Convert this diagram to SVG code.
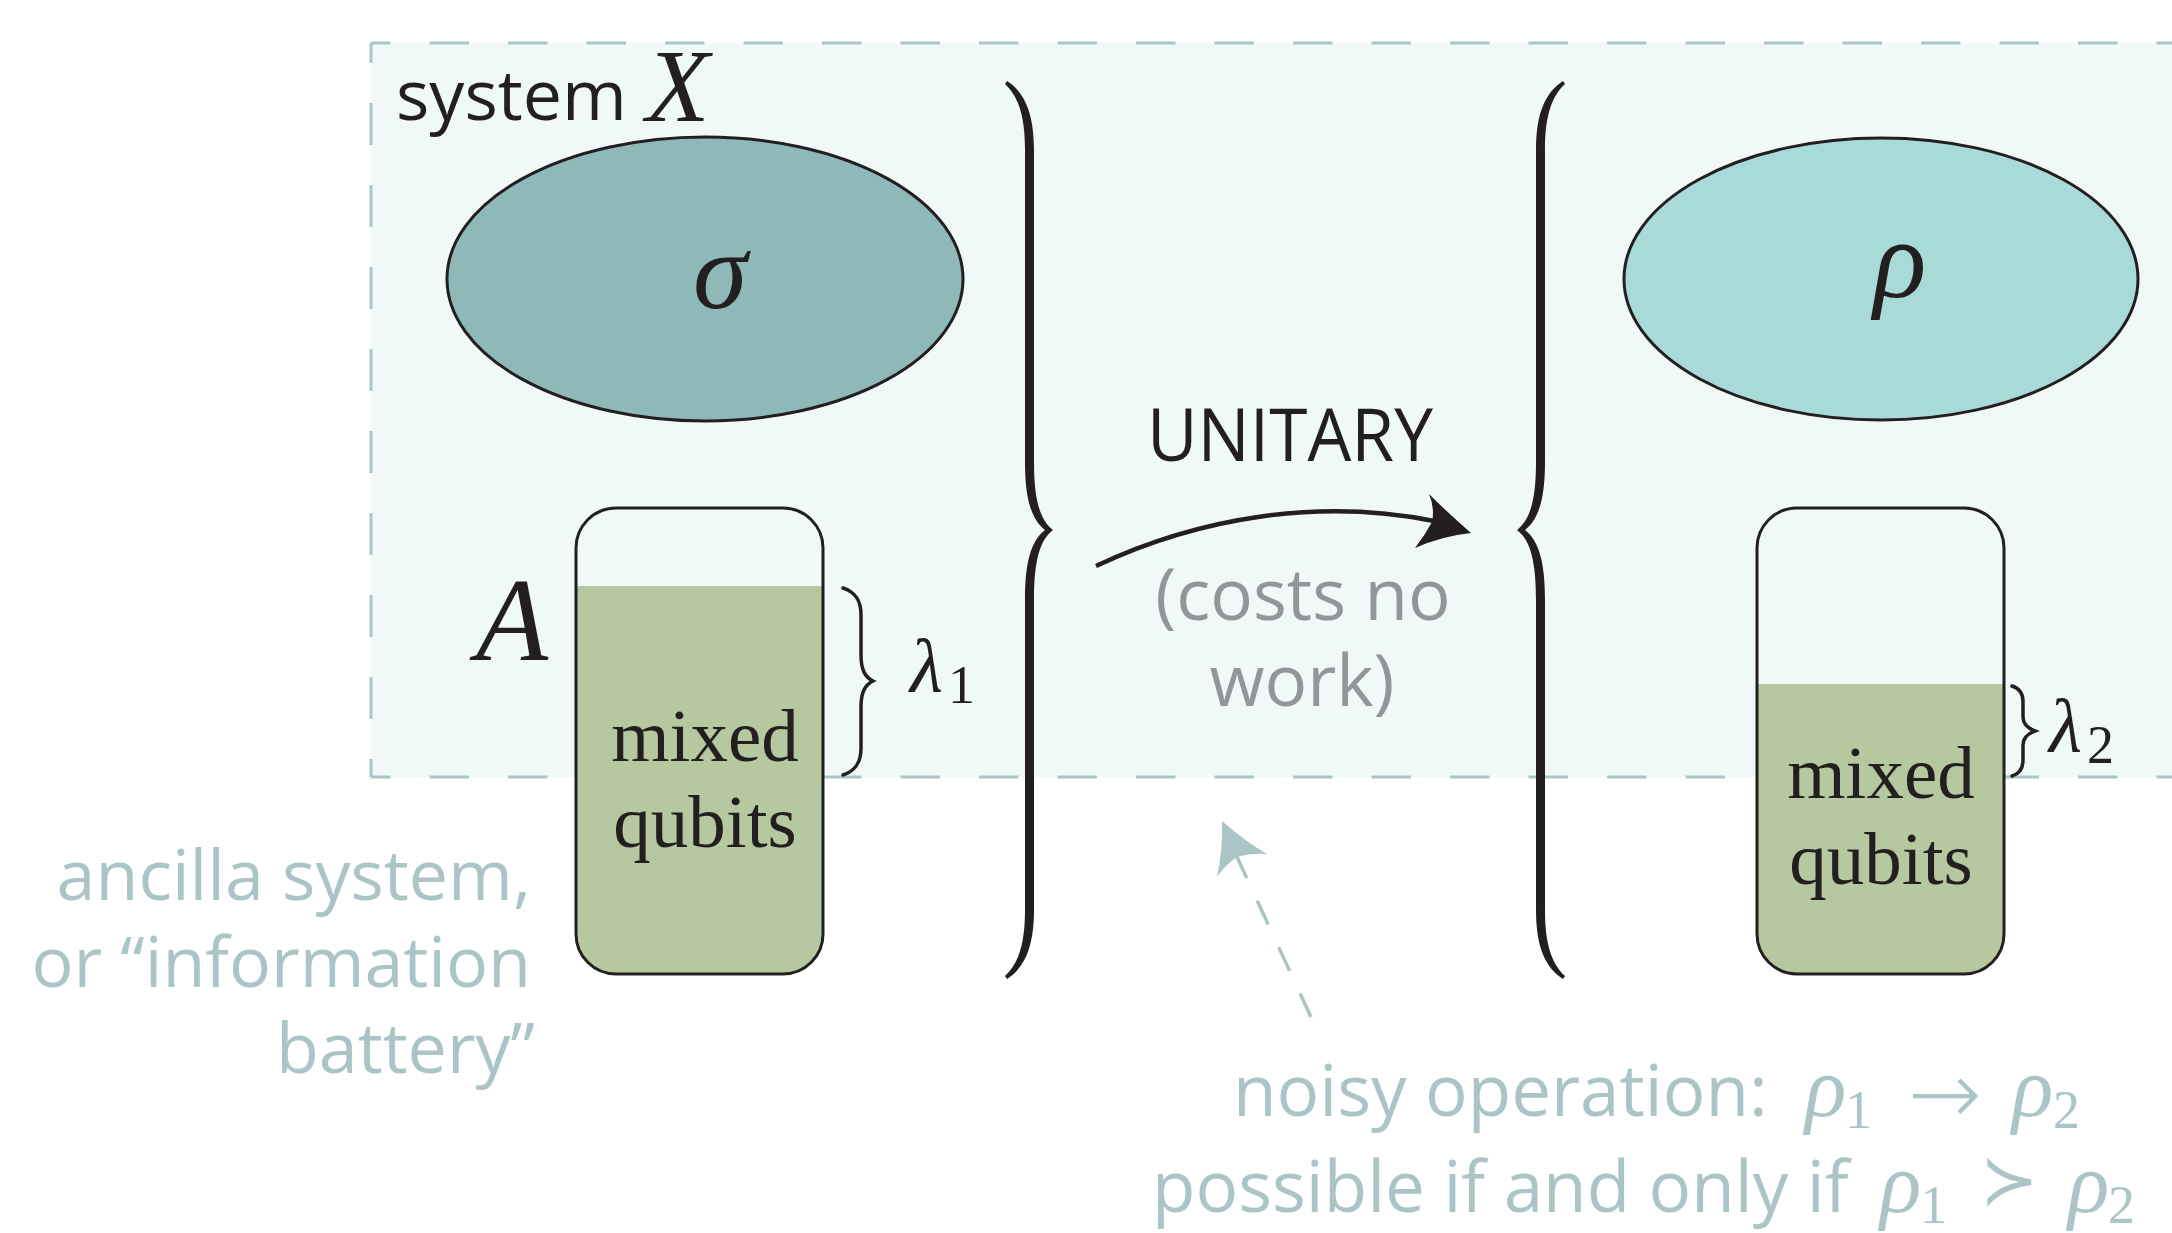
<svg xmlns="http://www.w3.org/2000/svg" width="2172" height="1233" viewBox="0 0 2172 1233">
  <defs>
    <style>
      .sans { font-family: "Open Sans", "Noto Sans", sans-serif; }
      .serif { font-family: "Liberation Serif", "DejaVu Serif", serif; }
      .it { font-style: italic; }
      .ink { fill: #231f20; }
      .note { fill: #abc5c6; }
      .grey { fill: #939598; }
      .border { stroke: #a9c5c5; stroke-width: 3; fill: none; }
      .outline { stroke: #231f20; stroke-width: 3; }
      .thin-brace { stroke: #231f20; stroke-width: 3.5; fill: none; stroke-linecap: round; }
    </style>
    <!-- large curly brace, drawn as a filled outline so the ends taper -->
    <path id="bigBrace" d="M 1007 81 C 1024 92 1034 112 1034 150 L 1034 462 C 1034 500 1040 520 1053 530 C 1040 540 1034 560 1034 600 L 1034 910 C 1034 948 1024 968 1007 979 L 1005 976 C 1018 964 1025 945 1025 910 L 1025 600 C 1025 562 1031 541 1045 530 C 1031 519 1025 498 1025 462 L 1025 150 C 1025 115 1018 96 1005 84 Z"/>
    <clipPath id="clipA"><rect x="576" y="508" width="247" height="466" rx="40"/></clipPath>
    <clipPath id="clipB"><rect x="1757" y="508" width="247" height="466" rx="40"/></clipPath>
  </defs>

  <rect width="2172" height="1233" fill="#ffffff"/>

  <!-- system X region -->
  <g id="systemX">
    <rect x="371" y="43" width="1830" height="734" fill="#f0f9f8"/>
    <line x1="371" y1="43" x2="2172" y2="43" class="border" stroke-dasharray="39.5 39" stroke-dashoffset="20"/>
    <line x1="371" y1="777" x2="2172" y2="777" class="border" stroke-dasharray="39.5 39" stroke-dashoffset="20"/>
    <line x1="371" y1="43" x2="371" y2="777" class="border" stroke-dasharray="42 40" stroke-dashoffset="22"/>
    <text x="396" y="120" class="sans ink" font-size="70">system</text>
    <text x="646" y="121" class="serif it ink" font-size="104">X</text>
  </g>

  <!-- initial state sigma -->
  <g id="sigma">
    <ellipse cx="705" cy="279" rx="258" ry="142" fill="#8fb9b9" class="outline"/>
    <text x="720" y="308" text-anchor="middle" class="serif it ink" font-size="110">σ</text>
  </g>

  <!-- final state rho -->
  <g id="rho">
    <ellipse cx="1881" cy="279" rx="257" ry="141" fill="#a8dad7" class="outline"/>
    <text x="1900" y="297" text-anchor="middle" class="serif it ink" font-size="110">ρ</text>
  </g>

  <!-- battery A before -->
  <g id="batteryA1">
    <rect x="576" y="508" width="247" height="466" rx="40" fill="#f0f9f8"/>
    <rect x="560" y="586" width="280" height="400" fill="#b5c8a0" clip-path="url(#clipA)"/>
    <rect x="576" y="508" width="247" height="466" rx="40" fill="none" class="outline"/>
    <text x="705" y="761" text-anchor="middle" class="serif ink" font-size="75">mixed</text>
    <text x="705" y="847" text-anchor="middle" class="serif ink" font-size="75">qubits</text>
    <text x="476" y="660" class="serif it ink" font-size="118">A</text>
    <path class="thin-brace" d="M 843 588 C 855 592 861 600 861 615 L 861 655 C 861 670 865 677 873 681 C 865 685 861 692 861 707 L 861 748 C 861 763 855 771 843 775"/>
    <text x="910" y="692" class="serif it ink" font-size="76">λ</text>
    <text x="948" y="703" class="serif ink" font-size="54">1</text>
  </g>

  <!-- battery A after -->
  <g id="batteryA2">
    <rect x="1757" y="508" width="247" height="466" rx="40" fill="#f0f9f8"/>
    <rect x="1740" y="684" width="280" height="300" fill="#b5c8a0" clip-path="url(#clipB)"/>
    <rect x="1757" y="508" width="247" height="466" rx="40" fill="none" class="outline"/>
    <text x="1881" y="798" text-anchor="middle" class="serif ink" font-size="75">mixed</text>
    <text x="1881" y="884" text-anchor="middle" class="serif ink" font-size="75">qubits</text>
    <path class="thin-brace" d="M 2012 686 C 2019 688 2023 693 2023 702 L 2023 717 C 2023 724 2027 728 2035 731 C 2027 734 2023 738 2023 745 L 2023 760 C 2023 769 2019 774 2012 776"/>
    <text x="2049" y="752" class="serif it ink" font-size="76">λ</text>
    <text x="2087" y="763" class="serif ink" font-size="54">2</text>
  </g>

  <!-- grouping braces around the joint states -->
  <g id="braces" fill="#231f20">
    <use href="#bigBrace"/>
    <use href="#bigBrace" transform="translate(2570,0) scale(-1,1)"/>
  </g>

  <!-- connectors -->
  <g id="connectors">
    <path d="M 1096 566 C 1200 517 1320 498 1434 521" fill="none" stroke="#231f20" stroke-width="4.5"/>
    <path d="M 1471 533 Q 1448 513 1429 494 Q 1435 508 1432 522 Q 1425 535 1415 548 Q 1442 536 1471 533 Z" fill="#231f20"/>
    <line x1="1311" y1="1017" x2="1237" y2="857" stroke="#abc5c6" stroke-width="3.5" stroke-dasharray="26 25"/>
    <path d="M 1222 821 Q 1246 842 1267 854 Q 1251 853 1237 857 Q 1225 865 1217 877 Q 1223 849 1222 821 Z" fill="#abc5c6"/>
  </g>

  <!-- operation labels -->
  <g id="unitaryLabel">
    <text x="1147" y="461" class="sans ink" font-size="74" textLength="286" lengthAdjust="spacingAndGlyphs">UNITARY</text>
    <text x="1303" y="620" text-anchor="middle" class="sans grey" font-size="71">(costs no</text>
    <text x="1302" y="706" text-anchor="middle" class="sans grey" font-size="71">work)</text>
  </g>

  <g id="ancillaNote">
    <text x="531" y="900" text-anchor="end" class="sans note" font-size="70">ancilla system,</text>
    <text x="531" y="987" text-anchor="end" class="sans note" font-size="70">or “information</text>
    <text x="535" y="1073" text-anchor="end" class="sans note" font-size="70">battery”</text>
  </g>

  <g id="noisyNote">
    <text x="1233" y="1116" class="sans note" font-size="71">noisy operation:</text>
    <text x="1805" y="1116" class="serif it note" font-size="86">ρ</text>
    <text x="1845" y="1128" class="serif note" font-size="54">1</text>
    <text x="1908" y="1124" font-family="DejaVu Sans, sans-serif" font-weight="200" class="note" font-size="88">→</text>
    <text x="2012" y="1116" class="serif it note" font-size="86">ρ</text>
    <text x="2053" y="1128" class="serif note" font-size="54">2</text>

    <text x="1152" y="1212" class="sans note" font-size="71">possible if and only if</text>
    <text x="1880" y="1212" class="serif it note" font-size="86">ρ</text>
    <text x="1920" y="1223" class="serif note" font-size="54">1</text>
    <text x="1980" y="1204" class="serif note" font-size="70">≻</text>
    <text x="2068" y="1212" class="serif it note" font-size="86">ρ</text>
    <text x="2108" y="1223" class="serif note" font-size="54">2</text>
  </g>
</svg>
